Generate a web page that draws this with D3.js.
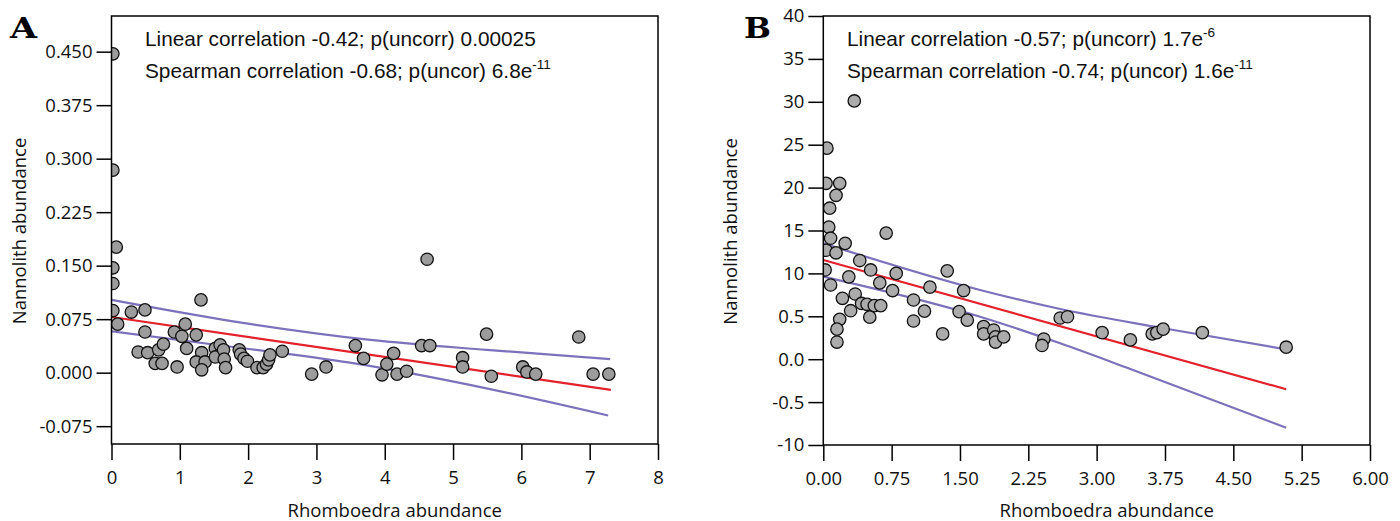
<!DOCTYPE html>
<html>
<head>
<meta charset="utf-8">
<script src="https://cdn.jsdelivr.net/npm/d3@7"></script>
<style>
  body { margin: 0; background: #fff; }
  .tick text { font-family: 'Open Sans', sans-serif; font-size: 18.5px; fill: #111; }
  .tick line { stroke: #000; stroke-width: 1.5px; }
</style>
</head>
<body>
<svg id="chart" width="1400" height="521"></svg>
<script>
// ---- panel A : rhomboedra vs nannolith (fraction) ----
const pointsA = [
  [0.02, 0.447], [0.02, 0.284], [0.07, 0.176], [0.02, 0.147], [0.02, 0.125],
  [0.02, 0.087], [0.09, 0.068], [0.29, 0.085], [0.49, 0.088], [0.49, 0.057],
  [0.39, 0.029], [0.53, 0.028], [0.64, 0.013], [0.74, 0.013], [0.69, 0.032],
  [0.76, 0.040], [0.96, 0.008], [0.92, 0.057], [1.03, 0.051], [1.08, 0.068],
  [1.10, 0.034], [1.24, 0.053], [1.31, 0.102], [1.32, 0.028], [1.24, 0.015],
  [1.37, 0.015], [1.32, 0.004], [1.52, 0.034], [1.52, 0.022], [1.59, 0.039],
  [1.64, 0.032], [1.65, 0.019], [1.67, 0.007], [1.87, 0.032], [1.89, 0.026],
  [1.94, 0.020], [1.99, 0.016], [2.13, 0.007], [2.22, 0.007], [2.27, 0.012],
  [2.30, 0.018], [2.32, 0.025], [2.50, 0.030], [2.93, -0.002], [3.14, 0.008],
  [3.57, 0.038], [3.69, 0.020], [3.96, -0.003], [4.03, 0.012], [4.13, 0.027],
  [4.18, -0.002], [4.32, 0.002], [4.54, 0.038], [4.66, 0.038], [4.62, 0.159],
  [5.14, 0.021], [5.14, 0.008], [5.49, 0.054], [5.56, -0.005], [6.02, 0.008],
  [6.08, 0.001], [6.21, -0.002], [6.84, 0.050], [7.05, -0.002], [7.28, -0.002]
];
const fitA = [[0, 0.078], [7.31, -0.024]];
const upperA = [[0, 0.102], [1.78, 0.072], [3.79, 0.046], [5.49, 0.032], [7.30, 0.019]];
const lowerA = [[0, 0.058], [1.78, 0.036], [3.49, 0.014], [5.54, -0.023], [7.27, -0.060]];
const xTicksA = d3.range(0, 9, 1);
const yTicksA = [-0.075, 0, 0.075, 0.150, 0.225, 0.300, 0.375, 0.450];

// ---- panel B : rhomboedra vs nannolith (counts) ----
const pointsB = [
  [0.34, 30.1], [0.04, 24.6], [0.03, 20.5], [0.18, 20.5], [0.14, 19.1],
  [0.07, 17.6], [0.06, 15.4], [0.08, 14.1], [0.03, 12.7], [0.14, 12.4],
  [0.24, 13.5], [0.69, 14.7], [0.40, 11.5], [0.52, 10.4], [0.02, 10.4],
  [0.08, 8.65], [0.28, 9.6], [0.62, 8.9], [0.80, 10.0], [0.76, 8.0],
  [0.21, 7.1], [0.35, 7.6], [0.42, 6.5], [0.48, 6.4], [0.56, 6.25],
  [0.63, 6.25], [0.30, 5.65], [0.51, 4.9], [0.18, 4.65], [0.15, 3.5],
  [0.15, 2.0], [0.99, 6.9], [1.11, 5.6], [0.99, 4.45], [1.17, 8.4],
  [1.36, 10.3], [1.54, 8.0], [1.31, 2.95], [1.49, 5.55], [1.58, 4.55],
  [1.76, 3.8], [1.76, 2.95], [1.87, 3.4], [1.89, 2.6], [1.89, 2.0],
  [1.98, 2.6], [2.42, 2.35], [2.40, 1.6], [2.60, 4.8], [2.68, 4.95],
  [3.06, 3.1], [3.37, 2.25], [3.61, 2.95], [3.66, 3.1], [3.73, 3.5],
  [4.16, 3.1], [5.08, 1.4]
];
const fitB = [[0, 11.56], [5.08, -3.5]];
const upperB = [[0, 13.5], [1.72, 8.07], [2.60, 5.85], [3.70, 3.67], [5.08, 1.15]];
const lowerB = [[0, 9.62], [1.72, 4.95], [2.60, 1.85], [3.37, -1.14], [5.08, -7.98]];
const xTicksB = d3.range(0, 6.01, 0.75);
const yTicksB = d3.range(-10, 41, 5);
const yLabelsB = ['-10', '-0.5', '0.0', '0.5', '10', '15', '20', '25', '30', '35', '40'];

const svg = d3.select('#chart');
const hyphen = f => d => f(d).replace('\u2212', '-');

function drawPanel(p) {
  const x = d3.scaleLinear().domain(p.xDomain).range([p.left, p.right]);
  const y = d3.scaleLinear().domain(p.yDomain).range([p.bottom, p.top]);
  const g = svg.append('g');

  g.append('clipPath').attr('id', 'clip' + p.id)
    .append('rect')
    .attr('x', p.left).attr('y', p.top)
    .attr('width', p.right - p.left).attr('height', p.bottom - p.top);

  // axes (ticks only, frame drawn separately)
  g.append('g')
    .attr('transform', `translate(${p.left},0)`)
    .call(d3.axisLeft(y).tickValues(p.yTicks).tickSize(15).tickPadding(4).tickFormat(p.yFormat))
    .call(a => a.select('.domain').remove());
  g.append('g')
    .attr('transform', `translate(0,${p.bottom})`)
    .call(d3.axisBottom(x).tickValues(p.xTicks).tickSize(16).tickPadding(11).tickFormat(p.xFormat))
    .call(a => a.select('.domain').remove());

  const line = d3.line().x(d => x(d[0])).y(d => y(d[1]));
  const curve = d3.line().x(d => x(d[0])).y(d => y(d[1])).curve(d3.curveMonotoneX);

  g.append('path').datum(p.upper).attr('d', curve)
    .attr('fill', 'none').attr('stroke', '#7b72bb').attr('stroke-width', 2.2);
  g.append('path').datum(p.lower).attr('d', curve)
    .attr('fill', 'none').attr('stroke', '#7b72bb').attr('stroke-width', 2.2);
  g.append('path').datum(p.fit).attr('d', line)
    .attr('fill', 'none').attr('stroke', '#e3212b').attr('stroke-width', 2.2);

  g.append('g').attr('clip-path', `url(#clip${p.id})`)
    .selectAll('circle')
    .data(p.points)
    .join('circle')
    .attr('cx', d => x(d[0]))
    .attr('cy', d => y(d[1]))
    .attr('r', 6.2)
    .attr('fill', p.dotColor)
    .attr('stroke', '#111')
    .attr('stroke-width', 1.3);

  // frame
  g.append('rect')
    .attr('x', p.left).attr('y', p.top)
    .attr('width', p.right - p.left).attr('height', p.bottom - p.top)
    .attr('fill', 'none').attr('stroke', '#000').attr('stroke-width', 1.5);

  // panel letter
  g.append('text')
    .attr('x', p.letterX).attr('y', 38)
    .attr('textLength', 27).attr('lengthAdjust', 'spacingAndGlyphs')
    .style('font-family', "'DejaVu Serif', serif").style('font-weight', 'bold')
    .style('font-size', '27px')
    .text(p.id);

  // correlation notes
  p.notes.forEach((n, i) => {
    const t = g.append('text')
      .attr('x', p.noteX).attr('y', 46 + i * 32)
      .style('font-family', "'Liberation Sans', Arial, sans-serif")
      .style('font-size', '20.8px').style('fill', '#111');
    t.append('tspan').text(n[0]);
    t.append('tspan').attr('dy', -9).style('font-size', '13.5px').text(n[1]);
  });

  // axis titles
  g.append('text')
    .attr('x', (p.left + p.right) / 2 + 10).attr('y', 517)
    .attr('text-anchor', 'middle')
    .style('font-family', "'Open Sans', sans-serif").style('font-size', '18.5px').style('fill', '#111')
    .text('Rhomboedra abundance');
  g.append('text')
    .attr('transform', `translate(${p.left - 86},${(p.top + p.bottom) / 2 + 1}) rotate(-90)`)
    .attr('text-anchor', 'middle')
    .style('font-family', "'Open Sans', sans-serif").style('font-size', '18.5px').style('fill', '#111')
    .text('Nannolith abundance');
}

drawPanel({
  id: 'A', left: 111.5, right: 658, top: 16, bottom: 444,
  xDomain: [0, 8], yDomain: [-0.1, 0.5],
  xTicks: xTicksA, yTicks: yTicksA,
  xFormat: d3.format('d'), yFormat: hyphen(d3.format('.3f')),
  points: pointsA, fit: fitA, upper: upperA, lower: lowerA,
  dotColor: '#9c9c9c', letterX: 10, noteX: 145,
  notes: [['Linear correlation -0.42; p(uncorr) 0.00025', ''],
          ['Spearman correlation -0.68; p(uncor) 6.8e', '-11']]
});

drawPanel({
  id: 'B', left: 823.3, right: 1370, top: 16, bottom: 445,
  xDomain: [0, 6], yDomain: [-10, 40],
  xTicks: xTicksB, yTicks: yTicksB,
  xFormat: d3.format('.2f'), yFormat: (d, i) => yLabelsB[i],
  points: pointsB, fit: fitB, upper: upperB, lower: lowerB,
  dotColor: '#ababab', letterX: 744, noteX: 847,
  notes: [['Linear correlation -0.57; p(uncorr) 1.7e', '-6'],
          ['Spearman correlation -0.74; p(uncor) 1.6e', '-11']]
});
</script>
</body>
</html>
